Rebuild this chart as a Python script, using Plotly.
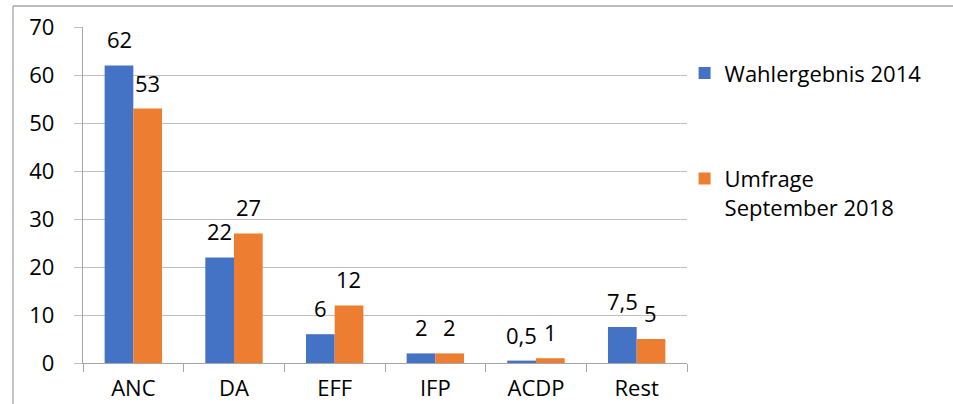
import plotly.graph_objects as go

categories = ["ANC", "DA", "EFF", "IFP", "ACDP", "Rest"]
wahl_2014 = [62, 22, 6, 2, 0.5, 7.5]
umfrage_2018 = [53, 27, 12, 2, 1, 5]
series_names = ["Wahlergebnis 2014", "Umfrage<br>September 2018"]
y_ticks = [0, 10, 20, 30, 40, 50, 60, 70]

BLUE = "#4472C4"
ORANGE = "#ED7D31"
FONT = "Open Sans, Noto Sans, sans-serif"
FS = 22


def fmt(v):
    return ("%g" % v).replace(".", ",")


fig = go.Figure()
fig.add_trace(go.Bar(x=categories, y=wahl_2014, name=series_names[0],
                     marker=dict(color=BLUE, line=dict(width=0)),
                     legendgroup="a"))
fig.add_trace(go.Bar(x=categories, y=umfrage_2018, name=series_names[1],
                     marker=dict(color=ORANGE, line=dict(width=0)),
                     legendgroup="b"))

annotations = []
for series, shift in ((wahl_2014, -14.3), (umfrage_2018, 14.3)):
    for c, v in zip(categories, series):
        annotations.append(dict(x=c, y=v, xref="x", yref="y", text=fmt(v),
                                showarrow=False, xshift=shift, yshift=9,
                                yanchor="bottom", xanchor="center",
                                font=dict(family=FONT, size=FS, color="#000000")))

fig.update_layout(
    width=953, height=404,
    margin=dict(l=83, r=266, t=27, b=41, pad=0, autoexpand=False),
    paper_bgcolor="white", plot_bgcolor="white",
    barmode="group", bargap=0.43, bargroupgap=0,
    font=dict(family=FONT, size=FS, color="#000000"),
    showlegend=True,
    legend=dict(x=0.996, xanchor="left", y=0.925, yanchor="top",
                font=dict(family=FONT, size=FS, color="#000000"),
                tracegroupgap=74, valign="top", bgcolor="rgba(0,0,0,0)"),
    annotations=annotations,
    shapes=[
        dict(type="line", xref="paper", yref="paper",
             x0=-0.1159, x1=1.5, y0=1.0625, y1=1.0625,
             line=dict(color="#A6A6A6", width=1.3)),
        dict(type="line", xref="paper", yref="paper",
             x0=-0.1159, x1=-0.1159, y0=-0.5, y1=1.0625,
             line=dict(color="#A6A6A6", width=1.3)),
    ],
)

fig.update_xaxes(
    type="category", showline=True, linecolor="#A6A6A6", linewidth=1.3,
    ticks="outside", tickson="boundaries", ticklen=8, tickcolor="#A6A6A6",
    tickwidth=1.3, showgrid=False, ticklabelstandoff=5, automargin=False,
    tickfont=dict(family=FONT, size=FS, color="#000000"),
)
fig.update_yaxes(
    range=[0, 70], tickvals=y_ticks, showline=True, linecolor="#A6A6A6",
    linewidth=1.3, ticks="outside", ticklen=8, tickcolor="#BFBFBF",
    tickwidth=1.3, showgrid=True, gridcolor="#BFBFBF", gridwidth=1.3,
    zeroline=False, ticklabelstandoff=15, automargin=False,
    tickfont=dict(family=FONT, size=FS, color="#000000"),
)

fig.write_html("out.html", config={"displayModeBar": False},
               post_script="document.body.style.margin='0';document.body.style.padding='0';")
